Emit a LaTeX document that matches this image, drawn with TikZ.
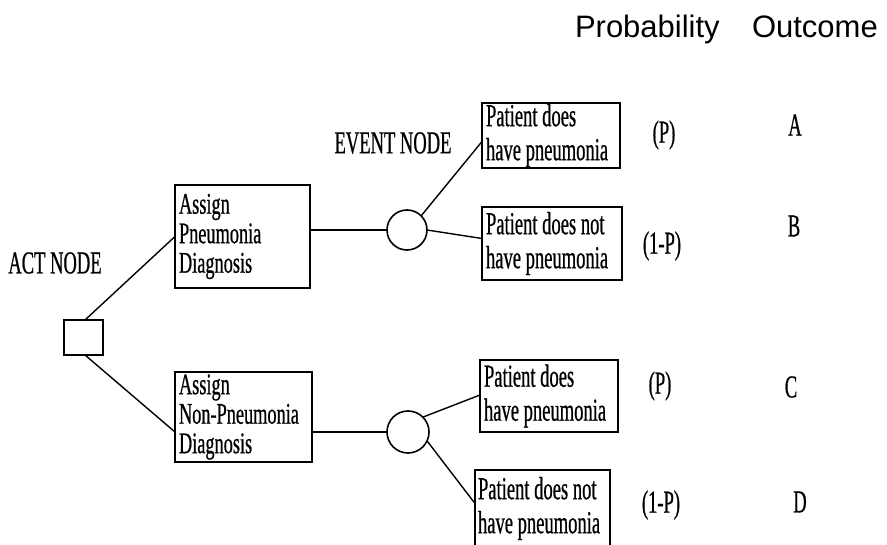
\documentclass[tikz,border=0pt]{standalone}
\usepackage{fontspec}
\setmainfont{Liberation Serif}
\newfontfamily\condfont[FakeStretch=0.58, FakeBold=0.6]{Liberation Serif}
\newfontfamily\choicefont[FakeStretch=0.61, FakeBold=0.6]{Liberation Serif}
\newfontfamily\headfont{Liberation Sans}
\usetikzlibrary{calc}
\begin{document}
\begin{tikzpicture}[x=1pt,y=-1pt,
  every node/.style={inner sep=0pt, outer sep=0pt},
  lbl/.style={font=\condfont\fontsize{32}{30}\selectfont},
  hdr/.style={font=\headfont\fontsize{31}{34}\selectfont, anchor=base west},
  choice/.style={draw, line width=1.6pt, align=flush left, text width=#1,
    font=\choicefont\fontsize{30}{29.5}\selectfont},
  outcome/.style={draw, line width=1.6pt, align=flush left, text width=#1,
    font=\condfont\fontsize{32}{34}\selectfont},
  actbox/.style={draw, line width=1.6pt, minimum width=39pt, minimum height=35pt},
  chance/.style={draw, circle, line width=1.6pt, minimum size=40pt},
  link/.style={line width=1.4pt}]
\useasboundingbox (0,0) rectangle (887,545);

% column headings
\node[hdr] (hprob) at (575,38) {Probability};
\node[hdr] (hout) at (752,38) {Outcome};

% decision (act) node and its two choices
\node[lbl] (actlbl) at (55,263) {ACT NODE};
\node[actbox] (act) at (83.5,337.5) {};
\node[choice=127pt, minimum height=103pt, inner xsep=4pt] (ap) at (242.5,236.5)
  {Assign\\Pneumonia\\Diagnosis};
\node[choice=129pt, minimum height=90pt, inner xsep=4pt] (anp) at (243.5,417)
  {Assign\\Non-Pneumonia\\Diagnosis};

% chance (event) nodes
\node[lbl] (evlbl) at (393,143) {EVENT NODE};
\node[chance] (c1) at (407,230) {};
\node[chance, minimum size=42pt] (c2) at (408,432) {};

% outcome boxes
\node[outcome=130pt, minimum height=65pt, inner xsep=4pt] (p1) at (551,135.5)
  {Patient does\\have pneumonia};
\node[outcome=132pt, minimum height=73pt, inner xsep=4pt] (p2) at (552,243.5)
  {Patient does not\\have pneumonia};
\node[outcome=130pt, minimum height=72pt, inner xsep=4pt] (p3) at (549,396)
  {Patient does\\have pneumonia};
\node[outcome=129pt, minimum height=77pt, inner xsep=3pt] (p4) at (542.5,508.5)
  {Patient does not\\have pneumonia};

% probabilities
\node[lbl] (pr1) at (664,135) {(P)};
\node[lbl] (pr2) at (662,246) {(1-P)};
\node[lbl] (pr3) at (660,386) {(P)};
\node[lbl] (pr4) at (661,505) {(1-P)};

% outcome letters
\node[lbl] (oa) at (795,125) {A};
\node[lbl] (ob) at (794,226) {B};
\node[lbl] (oc) at (791,387) {C};
\node[lbl] (od) at (800,502) {D};

% branches
\draw[link] ($(act.north)+(1.5,0)$) -- (ap.west);
\draw[link] ($(act.south)+(1.5,0)$) -- ($(anp.west)+(0,15)$);
\draw[link] (c1.west) -- (c1.west -| ap.east);
\draw[link] (c2.west) -- (c2.west -| anp.east);
\draw[link] (c1.north east) -- ($(p1.west)+(0,6)$);
\draw[link] (c1.east) -- ($(p2.west)+(0,-5)$);
\draw[link] (c2.north east) -- ($(p3.west)+(0,-1)$);
\draw[link] (c2.-25) -- ($(p4.west)+(0,-5)$);
\end{tikzpicture}
\end{document}
